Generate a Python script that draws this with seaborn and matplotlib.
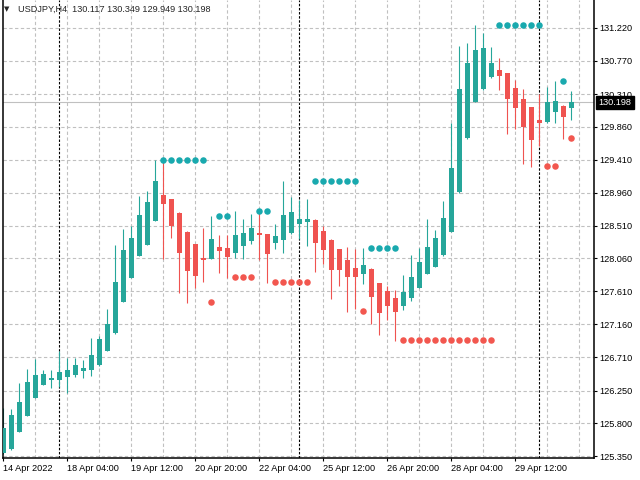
import numpy as np
import pandas as pd
import matplotlib
matplotlib.use('Agg')
import matplotlib.pyplot as plt
import matplotlib.transforms as mtransforms
import seaborn as sns

# USDJPY H4 candles, bar 0 = first visible bar
opens = [125.395, 125.450, 125.682, 125.901, 126.152, 126.326, 126.390, 126.394, 126.436, 126.463,
         126.518, 126.531, 126.600, 126.792, 127.038, 127.463, 127.792, 128.093, 128.244, 128.572,
         128.928, 128.874, 128.682, 128.421, 128.257, 128.065, 128.052, 128.216, 128.203, 128.134,
         128.230, 128.298, 128.408, 128.394, 128.271, 128.312, 128.408, 128.531, 128.558, 128.586,
         128.435, 128.312, 128.189, 128.038, 127.929, 127.846, 127.915, 127.723, 127.614, 127.518,
         127.408, 127.518, 127.655, 127.846, 127.942, 128.107, 128.421, 128.969, 129.709, 130.202,
         130.380, 130.544, 130.640, 130.599, 130.394, 130.243, 130.133, 129.955, 129.928, 130.065,
         130.147, 130.117]
highs = [126.011, 125.997, 126.353, 126.545, 126.686, 126.531, 126.531, 126.790, 126.700, 126.700,
         126.668, 126.970, 126.997, 127.367, 128.244, 128.463, 128.504, 128.915, 128.983, 129.408,
         129.408, 128.874, 128.690, 128.430, 128.260, 128.476, 128.641, 128.380, 128.380, 128.709,
         128.600, 128.668, 128.709, 128.400, 128.531, 129.120, 128.901, 128.860, 128.874, 128.600,
         128.504, 128.320, 128.190, 128.216, 128.189, 128.203, 127.930, 127.730, 127.682, 127.627,
         127.833, 128.107, 128.203, 128.600, 128.449, 128.846, 129.914, 130.969, 131.010, 131.257,
         131.147, 130.955, 130.805, 130.600, 130.503, 130.380, 130.140, 130.312, 130.407, 130.490,
         130.161, 130.349]
lows = [125.380, 125.440, 125.680, 125.900, 126.150, 126.320, 126.290, 126.300, 126.217, 126.440,
        126.422, 126.449, 126.590, 126.790, 127.030, 127.460, 127.790, 128.090, 128.240, 128.570,
        128.052, 128.339, 127.586, 127.449, 127.655, 127.737, 128.050, 127.860, 127.792, 128.065,
        128.052, 128.257, 128.038, 127.723, 128.189, 128.134, 128.400, 128.326, 128.230, 127.874,
        127.983, 127.504, 127.682, 127.326, 127.367, 127.709, 127.161, 127.011, 127.216, 126.929,
        127.353, 127.477, 127.650, 127.840, 127.940, 128.100, 128.420, 128.960, 129.700, 130.200,
        130.370, 130.531, 130.366, 129.764, 129.832, 129.353, 129.312, 129.599, 129.920, 129.914,
        129.695, 129.949]
closes = [125.737, 125.915, 126.093, 126.367, 126.463, 126.477, 126.422, 126.504, 126.531, 126.600,
          126.559, 126.737, 126.956, 127.161, 127.737, 128.175, 128.339, 128.654, 128.832, 129.120,
          128.805, 128.504, 128.134, 127.887, 127.819, 128.038, 128.326, 128.161, 128.079, 128.380,
          128.408, 128.476, 128.380, 128.120, 128.367, 128.654, 128.695, 128.600, 128.600, 128.271,
          128.175, 127.901, 127.901, 127.805, 127.805, 127.970, 127.531, 127.312, 127.408, 127.326,
          127.600, 127.805, 128.011, 128.216, 128.339, 128.613, 129.298, 130.380, 130.736, 130.914,
          130.942, 130.736, 130.558, 130.243, 130.120, 129.860, 129.682, 129.914, 130.202, 130.216,
          129.997, 130.198]

# resistance (teal) and support (red) dots
res_x = [20, 21, 22, 23, 24, 25, 27, 28, 32, 33, 39, 40, 41, 42, 43, 44, 46, 47, 48, 49,
         62, 63, 64, 65, 66, 67, 70]
res_y = [129.408, 129.408, 129.408, 129.408, 129.408, 129.408, 128.641, 128.641, 128.709, 128.709,
         129.120, 129.120, 129.120, 129.120, 129.120, 129.120, 128.199, 128.199, 128.199, 128.199,
         131.252, 131.252, 131.252, 131.252, 131.252, 131.252, 130.486]
sup_x = [26, 29, 30, 31, 34, 35, 36, 37, 38, 45, 50, 51, 52, 53, 54, 55, 56, 57, 58, 59, 60, 61,
         68, 69, 71]
sup_y = [127.459, 127.801, 127.801, 127.801, 127.733, 127.733, 127.733, 127.733, 127.733, 127.336,
         126.943, 126.943, 126.943, 126.943, 126.943, 126.943, 126.943, 126.943, 126.943, 126.943,
         126.943, 126.943, 129.326, 129.326, 129.704]

tick_bars = [0, 8, 16, 24, 32, 40, 48, 56, 64]
tick_labels = ['14 Apr 2022', '18 Apr 04:00', '19 Apr 12:00', '20 Apr 20:00', '22 Apr 04:00',
               '25 Apr 12:00', '26 Apr 20:00', '28 Apr 04:00', '29 Apr 12:00']
grid_bars = [4, 8, 12, 16, 20, 24, 28, 32, 36, 40, 44, 48, 52, 56, 60, 64, 68, 72]
week_bars = [7, 37, 67]
price_ticks = [131.220, 130.770, 130.310, 129.860, 129.410, 128.960, 128.510, 128.060,
               127.610, 127.160, 126.710, 126.250, 125.800, 125.350]
last_price = 130.198

df = pd.DataFrame({'open': opens, 'high': highs, 'low': lows, 'close': closes})
df['bar'] = np.arange(len(df))

sns.set_style('white')
plt.rcParams['font.family'] = ['Liberation Sans', 'DejaVu Sans']

bull = '#26a69a'
bear = '#ef5350'
fs = 6.6

fig = plt.figure(figsize=(6.4, 4.8), dpi=100)
ax = fig.add_axes([2.5 / 640, 1 - 458 / 480, (594 - 2.5) / 640, 458 / 480])

# grid
for g in grid_bars:
    ax.axvline(g, color='#c0c0c0', lw=0.8, dashes=(3, 2.2), zorder=0.5)
for p in price_ticks:
    ax.axhline(p, color='#c0c0c0', lw=0.8, dashes=(3, 2.2), zorder=0.5)

# week separators and last price line
for w in week_bars:
    ax.axvline(w, color='black', lw=0.8, dashes=(2.2, 1.5), zorder=1)
ax.axhline(last_price, color='#c0c0c0', lw=0.8, zorder=1)

# candles
up = df['close'] >= df['open']
cols = np.where(up, bull, bear)
ax.vlines(df['bar'], df['low'], df['high'], colors=cols, lw=0.8, zorder=2)
body = (df['close'] - df['open']).abs().clip(lower=0.02)
ax.bar(df['bar'], body, bottom=df[['open', 'close']].min(axis=1), width=0.62,
       color=cols, linewidth=0, zorder=3)

# support / resistance dots
sns.scatterplot(x=res_x, y=res_y, color='#19a9ae', s=22, linewidth=0, ax=ax, zorder=4)
sns.scatterplot(x=sup_x, y=sup_y, color='#f2574f', s=22, linewidth=0, ax=ax, zorder=4)

ax.set_xlim(-0.1, 73.85)
ax.set_ylim(125.327, 131.599)

ax.yaxis.tick_right()
ax.set_yticks(price_ticks)
ax.set_yticklabels([f'{p:.3f}' for p in price_ticks])
ax.set_xticks(tick_bars)
ax.set_xticklabels(tick_labels)
for lbl in ax.get_xticklabels():
    lbl.set_horizontalalignment('left')
ax.tick_params(axis='y', right=True, left=False, direction='out', length=2.5, width=0.8,
               pad=1.5, labelsize=fs, colors='black')
ax.tick_params(axis='x', bottom=True, direction='out', length=2.5, width=0.8,
               pad=2, labelsize=fs, colors='black')
ax.set_xlabel('')
ax.set_ylabel('')

for s in ['left', 'right', 'bottom']:
    ax.spines[s].set_visible(True)
    ax.spines[s].set_color('black')
    ax.spines[s].set_linewidth(1.1)
ax.spines['top'].set_visible(False)

# current price box
trans = mtransforms.blended_transform_factory(ax.transAxes, ax.transData)
ax.text(1.008, last_price, f'{last_price:.3f}', transform=trans, color='white', fontsize=fs,
        va='center', ha='left', zorder=10, clip_on=False,
        bbox=dict(boxstyle='square,pad=0.25', facecolor='black', edgecolor='black'))

# header
fig.text(4 / 640, 1 - 9 / 480, '\u25bc', fontsize=5, va='center', ha='left',
         family=['DejaVu Sans'])
fig.text(18 / 640, 1 - 9 / 480, 'USDJPY,H4  130.117 130.349 129.949 130.198', fontsize=fs,
         va='center', ha='left')

fig.savefig('out.png', dpi=100, facecolor='white')
